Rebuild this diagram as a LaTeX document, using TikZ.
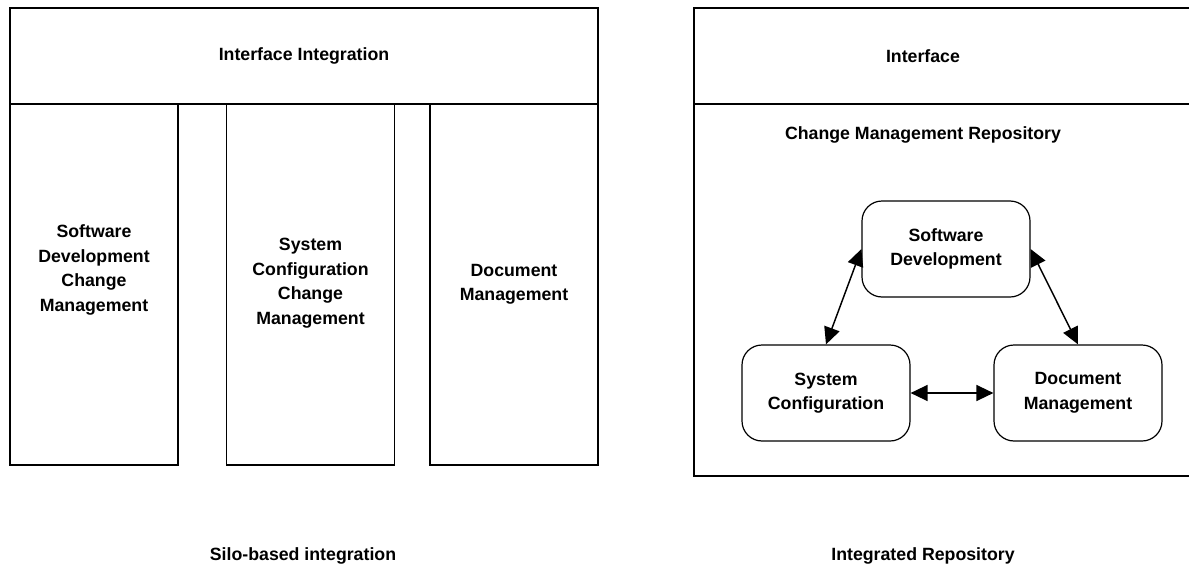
\documentclass[tikz,border=0pt]{standalone}
\usepackage{fontspec}
\setmainfont{Liberation Sans}
\usetikzlibrary{arrows.meta}
\begin{document}
\begin{tikzpicture}[x=0.75pt,y=-0.75pt,
  txt/.style={font=\fontsize{13.3}{18.4}\selectfont\bfseries,align=center},
  panel/.style={draw,line width=0.9pt,inner sep=0pt},
  unit/.style={draw,line width=0.9pt,rounded corners=15pt,
    minimum width=126pt,minimum height=72pt,txt},
  link/.style={line width=1.1pt,
    {Triangle[length=12.75pt,width=12pt]}-{Triangle[length=12.75pt,width=12pt]}}]
\useasboundingbox (0,0) rectangle (1189,578);
% Silo-based side
\node[panel,txt,minimum width=441pt,minimum height=72pt] (integ) at (304,56)
  {Interface Integration};
\foreach \nm/\cx/\ty/\lines in
    {colA/94/270/{Software\\Development\\Change\\Management},
     colB/310.5/283/{System\\Configuration\\Change\\Management},
     colC/514/284.5/{Document\\Management}} {
	% Draw silo
	\node[panel,minimum width=126pt,minimum height=270.75pt] (\nm) at (\cx,284.5) {};
	% Draw silo text
	\node[txt] (\nm-t) at (\cx,\ty) {\lines};
}
\node[txt] (siloCap) at (303,556) {Silo-based integration};
% Repository side
\draw[panel] (694,8) rectangle (1195,476);
\draw[panel] (694,104) -- (1195,104);
\node[txt] (ifaceT) at (923,56) {Interface};
\node[txt] (repoT) at (923,135) {Change Management Repository};
\node[unit] (sd) at (946,249) {Software\\Development};
\node[unit] (sc) at (826,393) {System\\Configuration};
\node[unit] (dm) at (1078,393) {Document\\Management};
\draw[link] (sd.west) -- (sc.north);
\draw[link] (sd.east) -- (dm.north);
\draw[link] (sc) -- (dm);
\node[txt] (repoCap) at (923,556) {Integrated Repository};
\end{tikzpicture}
\end{document}
